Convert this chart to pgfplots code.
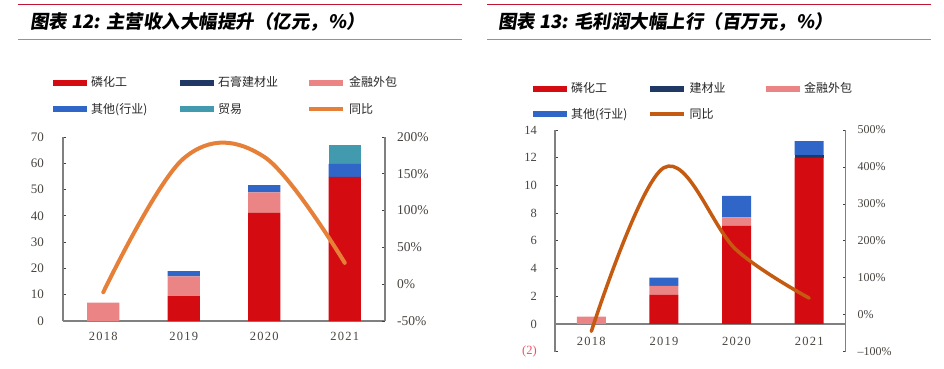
\documentclass[border=0pt]{standalone}
\usepackage{pgfplots}
\pgfplotsset{compat=1.18}
\usepackage{fontspec}
\setmainfont{Liberation Serif}
\newfontfamily\cjk{Noto Sans CJK SC}
\newfontfamily\cjkt{Noto Sans CJK SC}[FakeSlant=0.15]
\newfontfamily\yearfont{Liberation Serif}[LetterSpace=10]

\definecolor{cred}{RGB}{212,12,18}
\definecolor{cnavy}{RGB}{31,56,100}
\definecolor{cpink}{RGB}{235,132,132}
\definecolor{cblue}{RGB}{48,102,200}
\definecolor{cteal}{RGB}{66,154,175}
\definecolor{corange}{RGB}{230,128,56}
\definecolor{cdorange}{RGB}{197,90,17}
\definecolor{tickgray}{RGB}{72,68,64}
\definecolor{axgray}{RGB}{128,128,128}
\definecolor{negred}{RGB}{240,80,100}
\definecolor{lineTop}{RGB}{192,20,50}
\definecolor{lineBot}{RGB}{225,110,130}

\pgfplotsset{
  barleg/.style={legend image code/.code={\fill[##1] (0pt,-3pt) rectangle (34pt,3pt);}},
  common/.style={scale only axis, xmin=-0.5, xmax=3.5,
    tick align=inside, major tick length=3pt,
    axis line style={draw=axgray, line width=1.3pt, -},
    major y tick style={draw=black!75, line width=0.8pt},
    major x tick style={draw=none},
    /pgf/number format/assume math mode=true,
    hide obscured x ticks=false, hide obscured y ticks=false},
}

\begin{document}
\begin{tikzpicture}
\useasboundingbox (0,0) rectangle (944pt,369pt);

% ---------- titles & rules ----------
\draw[lineTop, line width=1.5pt] (18pt,364.7pt) -- (462pt,364.7pt);
\draw[lineBot, line width=1.5pt] (18pt,329.7pt) -- (462pt,329.7pt);
\node[anchor=west, inner sep=0pt] at (30pt,347pt) {\cjkt\bfseries\fontsize{18.5}{18.5}\selectfont 图表 12: 主营收入大幅提升（亿元，\%）};
\draw[lineTop, line width=1.5pt] (487pt,364.7pt) -- (931pt,364.7pt);
\draw[lineBot, line width=1.5pt] (487pt,329.7pt) -- (931pt,329.7pt);
\node[anchor=west, inner sep=0pt] at (498pt,347pt) {\cjkt\bfseries\fontsize{18.5}{18.5}\selectfont 图表 13: 毛利润大幅上行（百万元，\%）};

% ---------- chart 1 ----------
\begin{axis}[common, at={(63pt,48pt)}, anchor=south west, width=322pt, height=184pt,
  ymin=0, ymax=70, ybar stacked, bar width=0.4,
  axis x line*=bottom, axis y line*=left,
  xtick={0,1,2,3}, xticklabels={2018,2019,2020,2021},
  ytick={0,10,...,70}, yticklabels={0,10,20,30,40,50,60,70},
  xticklabel style={font=\yearfont\fontsize{12.5}{12.5}\selectfont, text=tickgray, inner sep=0pt, anchor=north, yshift=-11pt},
  yticklabel style={font=\fontsize{13}{13}\selectfont, text=tickgray, inner sep=0pt, anchor=east, xshift=-19pt},
  legend columns=3,
  legend style={at={(-0.031,1.329)}, anchor=north west, draw=none, fill=none, inner sep=0pt,
    font=\cjk\fontsize{12}{12}\selectfont, text=black!85, row sep=15pt, column sep=0pt,
    nodes={inner sep=0pt}},
  legend cell align=left,
]
\addplot[fill=cred, draw=none, barleg] coordinates {(0,0) (1,9.5) (2,41.1) (3,54.8)};
\addplot[fill=cnavy, draw=none, barleg] coordinates {(0,0) (1,0) (2,0) (3,0)};
\addplot[fill=cpink, draw=none, barleg] coordinates {(0,7.0) (1,7.5) (2,7.8) (3,0)};
\addplot[fill=cblue, draw=none, barleg] coordinates {(0,0) (1,2.0) (2,2.8) (3,5.0)};
\addplot[fill=cteal, draw=none, barleg] coordinates {(0,0) (1,0) (2,0) (3,7.0)};
\addlegendimage{legend image code/.code={\draw[corange, line width=4pt] (0pt,0pt) -- (34pt,0pt);}}
\legend{\makebox[93pt][l]{\hspace{4pt}磷化工},\makebox[93pt][l]{\hspace{4pt}石膏建材业},\makebox[93pt][l]{\hspace{4pt}金融外包},\makebox[93pt][l]{\hspace{4pt}其他(行业)},\makebox[93pt][l]{\hspace{4pt}贸易},\makebox[93pt][l]{\hspace{4pt}同比}}
\end{axis}
\begin{axis}[common, at={(63pt,48pt)}, anchor=south west, width=322pt, height=184pt,
  ymin=-50, ymax=200, axis y line*=right, axis x line=none,
  ytick={-50,0,...,200}, yticklabels={-50\%,0\%,50\%,100\%,150\%,200\%},
  yticklabel style={font=\fontsize{13.5}{13.5}\selectfont, text=tickgray, inner sep=0pt, anchor=west, xshift=12pt},
]
\addplot[corange, line width=4pt, smooth, tension=0.6, line cap=round] coordinates {(0,-11) (1,171) (2,173) (3,29)};
\end{axis}

% ---------- chart 2 ----------
\begin{axis}[common, at={(555pt,17.3pt)}, anchor=south west, width=290.5pt, height=221.7pt,
  ymin=-2, ymax=14, ybar stacked, bar width=0.4,
  axis x line*=middle, axis y line*=left,
  xtick={0,1,2,3}, xticklabels={2018,2019,2020,2021},
  ytick={-2,0,...,14}, yticklabels={{\textcolor{negred}{(2)}},0,2,4,6,8,10,12,14},
  xticklabel style={font=\yearfont\fontsize{12.5}{12.5}\selectfont, text=tickgray, inner sep=0pt, anchor=north, yshift=-12.5pt},
  yticklabel style={font=\fontsize{12.5}{12.5}\selectfont, text=tickgray, inner sep=0pt, anchor=east, xshift=-18pt},
  legend columns=3,
  legend style={at={(-0.0757,1.214)}, anchor=north west, draw=none, fill=none, inner sep=0pt,
    font=\cjk\fontsize{12}{12}\selectfont, text=black!85, row sep=14pt, column sep=0pt,
    nodes={inner sep=0pt}},
  legend cell align=left,
]
\addplot[fill=cred, draw=none, barleg] coordinates {(0,0) (1,2.1) (2,7.1) (3,12.0)};
\addplot[fill=cnavy, draw=none, barleg] coordinates {(0,0) (1,0) (2,0) (3,0.2)};
\addplot[fill=cpink, draw=none, barleg] coordinates {(0,0.53) (1,0.65) (2,0.6) (3,0)};
\addplot[fill=cblue, draw=none, barleg] coordinates {(0,0) (1,0.6) (2,1.55) (3,1.0)};
\addlegendimage{legend image code/.code={\draw[cdorange, line width=4pt] (0pt,0pt) -- (34pt,0pt);}}
\legend{\makebox[80.5pt][l]{\hspace{4pt}磷化工},\makebox[80.5pt][l]{\hspace{4pt}建材业},\makebox[80.5pt][l]{\hspace{4pt}金融外包},\makebox[80.5pt][l]{\hspace{4pt}其他(行业)},\makebox[80.5pt][l]{\hspace{4pt}同比}}
\end{axis}
\begin{axis}[common, at={(555pt,17.3pt)}, anchor=south west, width=290.5pt, height=221.7pt,
  ymin=-100, ymax=500, axis y line*=right, axis x line=none,
  ytick={-100,0,...,500}, yticklabels={--100\%,0\%,100\%,200\%,300\%,400\%,500\%},
  yticklabel style={font=\fontsize{12}{12}\selectfont, text=tickgray, inner sep=0pt, anchor=west, xshift=12pt},
]
\addplot[cdorange, line width=3.5pt, smooth, tension=0.6, line cap=round] coordinates {(0,-45) (1,398) (2,175) (3,45)};
\end{axis}
\end{tikzpicture}
\end{document}
